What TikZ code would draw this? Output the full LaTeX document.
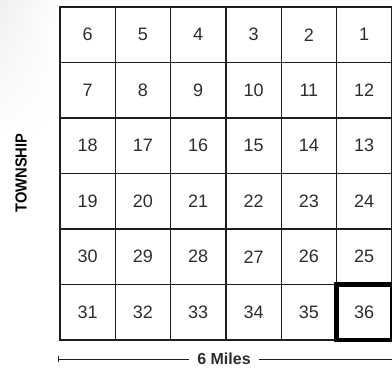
\documentclass[tikz,border=0pt]{standalone}
\usepackage{fontspec}
\setmainfont{Liberation Sans}
\usepackage{tikz}
\usetikzlibrary{arrows.meta,positioning,calc,fadings}
\definecolor{gridgray}{RGB}{30,30,30}
\definecolor{textgray}{RGB}{45,45,45}

\begin{document}
\begin{tikzpicture}[x=1pt,y=-1pt,
  every node/.style={font=\fontsize{18}{20}\selectfont, text=textgray},
  cell/.style={draw=gridgray, line width=1.4pt, minimum width=55.3pt, minimum height=55.5pt, inner sep=0pt, outer sep=0pt}]
\useasboundingbox (0,0) rectangle (392,368);
\shade[left color=gray!12, right color=white, path fading=south] (0,0) rectangle (60,140);
% sections, numbered back and forth
\foreach \r in {0,...,5}{
  \foreach \c in {0,...,5}{
    \pgfmathtruncatemacro{\n}{isodd(\r) ? 6*\r+\c+1 : 6*\r+6-\c}
    \node[cell] (cell\n) at ({60+55.3*(\c+0.5)},{7+55.5*(\r+0.5)}) {\n};
  }
}
\draw[line width=4.5pt] (cell36.north west) rectangle (cell36.south east);
\node[rotate=90, font=\fontsize{16}{18}\selectfont\bfseries, text=black] (township) at (21,173) {\scalebox{0.92}[1]{TOWNSHIP}};
% scale bar
\coordinate (barl) at (58,359);
\coordinate (barr) at (392,359);
\node[font=\fontsize{16}{18}\selectfont\bfseries, inner sep=8pt] (miles) at (224,359) {6 Miles};
\draw[gridgray, line width=0.9pt, {Bar[width=6pt]}-] (barl) -- (miles.west);
\draw[gridgray, line width=0.9pt] (miles.east) -- (barr);
\end{tikzpicture}
\end{document}
